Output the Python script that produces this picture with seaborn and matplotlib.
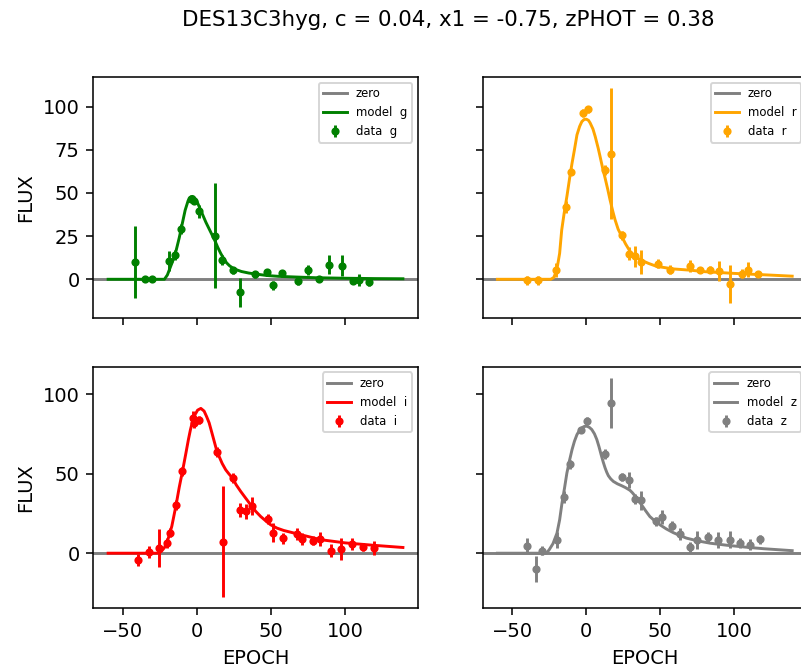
import matplotlib
matplotlib.use("Agg")
import matplotlib.pyplot as plt
import seaborn as sns

title = "DES13C3hyg, c = 0.04, x1 = -0.75, zPHOT = 0.38"
bands = ["g", "r", "i", "z"]
band_colors = ["green", "orange", "red", "gray"]

# ---- data points (epoch, flux, error) ----
g_epoch = [-41.9, -34.8, -30.7, -19.1, -14.8, -10.8, -3.8, -2.3, 1.3, 12.2, 17.2, 24.1, 29.0,
           39.1, 47.4, 51.0, 57.3, 68.2, 75.2, 82.3, 89.0, 98.2, 105.2, 109.2, 116.4]
g_flux = [9.8, 0.0, 0.0, 10.6, 14.0, 29.0, 46.5, 45.5, 39.3, 25.3, 11.2, 5.3, -7.5,
          3.0, 4.0, -3.5, 3.5, -0.8, 5.4, 0.1, 8.5, 7.9, -1.0, -0.4, -1.5]
g_err = [20.8, 1.5, 1.5, 6.0, 3.0, 3.0, 2.0, 2.0, 3.8, 30.3, 3.0, 2.0, 8.4,
         2.0, 2.0, 2.5, 2.0, 2.5, 3.0, 1.0, 5.3, 6.0, 2.0, 3.5, 2.5]

r_epoch = [-39.9, -32.9, -20.2, -13.9, -10.2, -2.3, 0.85, 12.7, 16.9, 24.1, 29.0, 32.8, 37.0,
           48.7, 56.8, 69.8, 76.7, 83.6, 89.9, 96.9, 105.0, 109.0, 116.0]
r_flux = [-0.6, -0.6, 5.6, 41.8, 62.4, 96.2, 98.5, 63.0, 72.7, 25.4, 14.9, 13.3, 9.8,
          9.1, 5.6, 7.5, 5.4, 5.6, 4.6, -2.5, 3.3, 5.6, 3.1]
r_err = [2.7, 2.5, 4.0, 3.4, 2.0, 2.3, 2.0, 2.9, 38.0, 2.4, 4.0, 6.0, 7.0,
         2.4, 2.6, 3.5, 2.0, 2.0, 5.7, 11.0, 2.4, 4.3, 1.8]

i_epoch = [-39.7, -32.7, -25.7, -20.2, -18.4, -13.9, -10.1, -3.0, -2.3, 1.5, 13.4, 17.4, 24.1,
           29.0, 33.0, 37.3, 47.6, 51.2, 58.1, 67.5, 71.1, 78.0, 83.2, 90.2, 97.3, 104.4, 112.3, 119.3]
i_flux = [-4.2, 0.6, 3.2, 6.3, 13.0, 30.5, 51.6, 85.3, 82.1, 83.8, 63.5, 7.3, 47.4,
          27.4, 26.3, 29.9, 21.5, 13.0, 9.5, 12.2, 9.0, 8.0, 9.0, 1.7, 2.5, 5.7, 4.2, 3.2]
i_err = [3.7, 3.7, 11.8, 3.0, 2.8, 3.2, 2.7, 4.2, 3.0, 2.6, 3.2, 35.2, 3.4,
         4.4, 4.5, 5.8, 3.0, 5.9, 3.4, 3.7, 3.7, 2.6, 4.2, 4.2, 7.0, 3.9, 2.5, 4.2]

z_epoch = [-39.9, -34.1, -30.1, -20.0, -15.1, -11.0, -3.5, 0.8, 12.7, 16.9, 24.0, 29.0, 32.8,
           37.1, 47.2, 50.8, 57.7, 63.1, 70.0, 75.0, 82.1, 89.1, 97.1, 104.1, 110.2, 117.1]
z_flux = [4.6, -10.1, 1.7, 8.4, 35.4, 56.0, 77.3, 83.1, 62.5, 94.8, 47.8, 46.3, 34.1,
          33.2, 20.0, 22.7, 17.2, 12.2, 3.8, 8.4, 10.1, 8.4, 8.4, 6.3, 5.3, 8.8]
z_err = [4.7, 8.2, 2.8, 5.0, 3.7, 3.0, 1.8, 2.4, 3.2, 15.8, 2.6, 5.0, 3.2,
         6.0, 3.0, 4.2, 2.8, 3.7, 3.2, 5.7, 3.2, 5.0, 5.3, 3.2, 3.4, 2.8]

# ---- model curves ----
g_model_epoch = [-60, -22, -20, -18, -16, -14, -12, -10, -8, -6, -4, -3, -2, 0, 2, 4, 6, 8, 10,
                 12, 14, 16, 18, 20, 22, 25, 30, 35, 40, 47, 55, 67, 80, 100, 120, 139]
g_model_flux = [0, 0, 2.5, 7, 11.5, 17, 24, 32, 40, 45.5, 47.8, 48, 47.6, 45, 41, 37, 33, 29.5, 26,
                22.5, 18.5, 15, 12, 9.5, 7.8, 6, 4.5, 3.6, 3, 2.2, 1.7, 1.3, 0.9, 0.6, 0.4, 0.3]

r_model_epoch = [-60, -24, -22, -20, -18, -16.6, -15, -13, -11, -9.6, -8, -6.3, -4.5, -3, -1.5, 0,
                 1.5, 2.6, 4.5, 6, 8, 9.3, 11, 12.7, 14.5, 16, 18, 19.4, 21.5, 23.9, 26.5, 29.5,
                 33, 36.2, 42, 47.4, 58.6, 69.8, 80, 100, 120, 139]
r_model_flux = [0, 0, 1, 5, 15, 28.5, 38, 48.5, 60, 67.3, 75, 83.6, 88.5, 91.3, 92.5, 92.7,
                92, 90.5, 87, 82.7, 76, 71.1, 64.5, 58.6, 52, 46.1, 39, 34.5, 29, 24.9, 20.5, 16.2,
                13.3, 11.4, 9.2, 7.5, 6, 5.3, 4.4, 3.4, 2.6, 1.8]

i_model_epoch = [-60, -27, -24.2, -22, -19.7, -17, -14.1, -12, -9.6, -7.5, -5.8, -4.5, -3, -1.5,
                 0.4, 2.6, 4.8, 6.5, 8.2, 10, 11.6, 13.2, 14.9, 17, 19.4, 21.5, 23.9, 26.5, 29.5,
                 33, 36.2, 39.5, 43, 46.5, 49.7, 54, 58.6, 67.6, 75, 83.6, 100, 119, 139]
i_model_flux = [0, 0, 1, 3.5, 8.4, 17, 30.5, 41.5, 52.6, 63, 71.6, 77.5, 83.1, 87,
                90.1, 91.2, 89.5, 86, 82.1, 76, 70.5, 65, 61, 56.5, 52.5, 50, 47.4, 43, 38.9,
                34.5, 30.5, 26.5, 23.1, 20.3, 17.9, 15.8, 14.3, 12.2, 10.5, 8.5, 6.5, 5.0, 3.6]

z_model_epoch = [-60, -27, -25.1, -22.5, -19.8, -18, -16.4, -14.7, -13.1, -11.3, -9.6, -8, -6.3,
                 -4.5, -3, -1.5, 0.4, 2, 3.7, 5.5, 7.1, 8.6, 10, 11.4, 12.7, 13.8, 14.9, 16.5,
                 18.3, 21, 23.9, 26.5, 29.5, 31, 32.8, 35, 37.3, 40, 42.9, 46.3, 49.7, 54, 58.6,
                 63, 67.6, 75, 83.6, 95, 107.8, 120, 139]
z_model_flux = [0, 0, 2.1, 6, 12.6, 21, 31.6, 41, 50.5, 58.5, 65.3, 70.5, 74.7,
                77.5, 79, 79.8, 80, 79.3, 77.9, 75.2, 71.6, 67, 62.1, 57.5, 53.7, 51, 48.8, 46.8,
                45.2, 43.7, 42.5, 41.3, 39.6, 38.2, 36.2, 33.4, 30.5, 26.8, 23.1, 20.3, 17.9, 15.3, 13.0,
                11.2, 9.5, 7.8, 6.3, 5.0, 3.8, 2.8, 1.6]

data = {
    "g": (g_epoch, g_flux, g_err, g_model_epoch, g_model_flux),
    "r": (r_epoch, r_flux, r_err, r_model_epoch, r_model_flux),
    "i": (i_epoch, i_flux, i_err, i_model_epoch, i_model_flux),
    "z": (z_epoch, z_flux, z_err, z_model_epoch, z_model_flux),
}

DPI = 140
fig, axes = plt.subplots(2, 2, sharex=True, sharey="row",
                         figsize=(801 / DPI, 672 / DPI), dpi=DPI)
fig.subplots_adjust(left=0.1165, right=1.0075, top=0.8859, bottom=0.0948,
                    wspace=0.2, hspace=0.2)

for ax, band, col in zip(axes.flat, bands, band_colors):
    ep, fl, er, mep, mfl = data[band]
    ax.axhline(0, color="gray", lw=1.5, label="zero")
    sns.lineplot(x=mep, y=mfl, ax=ax, color=col, lw=1.5, sort=False,
                 estimator=None, label=f"model  {band}")
    ax.errorbar(ep, fl, yerr=er, fmt="o", color=col, ms=3.2, elinewidth=1.5,
                capsize=0, label=f"data  {band}")
    ax.legend(loc="upper right", fontsize=6)
    ax.set_xlabel("")
    ax.set_ylabel("")

axes[0, 0].set_xlim(-70, 149)
axes[0, 0].set_ylim(-22.6, 117.3)
axes[1, 0].set_ylim(-34.7, 117.5)
axes[0, 0].set_yticks([0, 25, 50, 75, 100])
axes[1, 0].set_yticks([0, 50, 100])
axes[0, 0].set_xticks([-50, 0, 50, 100])

for ax in axes[:, 0]:
    ax.set_ylabel("FLUX", fontsize=10)
for ax in axes[1, :]:
    ax.set_xlabel("EPOCH", fontsize=10)

fig.suptitle(title, fontsize=11, x=0.56, y=0.985, va="top")

fig.savefig("out.png", dpi=DPI)
